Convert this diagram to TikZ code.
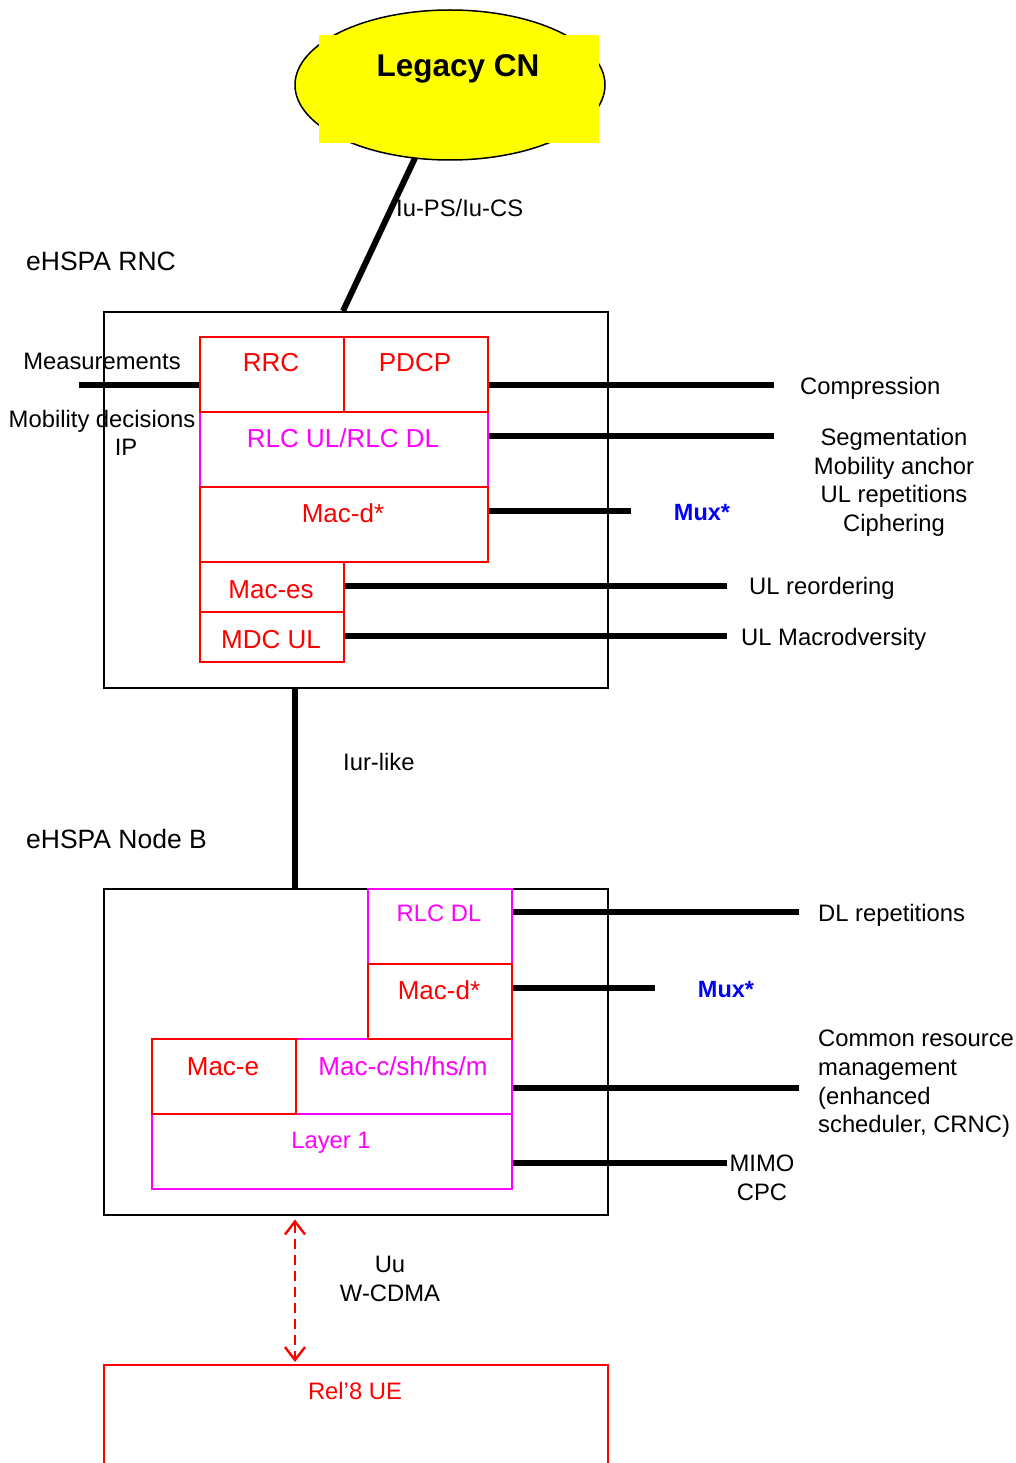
\documentclass[tikz,border=0pt]{standalone}
\usepackage{fontspec}
\setmainfont{Liberation Sans}
\usetikzlibrary{arrows.meta,calc,shapes.geometric}
\definecolor{mag}{RGB}{255,0,255}
\definecolor{pred}{RGB}{255,0,0}
\definecolor{pyel}{RGB}{255,255,0}
\definecolor{pblue}{RGB}{0,0,255}
\begin{document}
\begin{tikzpicture}[x=1pt,y=-1pt,
  frame/.style={draw=black,line width=1.5pt,anchor=north west,inner sep=0pt},
  rbox/.style={draw=pred,line width=2pt,anchor=north west,inner sep=0pt},
  mbox/.style={draw=mag,line width=2pt,anchor=north west,inner sep=0pt},
  lbl/.style={inner sep=0pt,anchor=base,font=\fontsize{23.8}{28.7}\selectfont},
  big/.style={inner sep=0pt,anchor=base west,font=\fontsize{26.5}{30}\selectfont},
  bt/.style={inner sep=0pt,anchor=base,font=\fontsize{26}{30}\selectfont},
  mux/.style={inner sep=0pt,anchor=base,text=pblue,font=\bfseries\fontsize{23.5}{28.7}\selectfont},
  link/.style={line width=6pt},
  uarrow/.style={draw=pred,line width=2.4pt,dash pattern=on 10pt off 6pt,
     {Straight Barb[length=13pt,width=20pt,line width=2.4pt]}-{Straight Barb[length=13pt,width=20pt,line width=2.4pt]}},
]
\useasboundingbox (0,0) rectangle (1016,1463);

% ---------- Legacy CN ----------
\node[ellipse,draw=black,fill=pyel,line width=1.5pt,minimum width=310pt,minimum height=150pt,inner sep=0pt] (cn) at (450,85) {};
\fill[pyel] (319,35) rectangle (599,143);
\node[inner sep=0pt,anchor=base,font=\bfseries\fontsize{31.5}{36}\selectfont] (cnt) at (458,77) {Legacy CN};

% ---------- eHSPA RNC ----------
\node[big] (rnclbl) at (26,270) {eHSPA RNC};
\node[frame,minimum width=504pt,minimum height=376pt] (rnc) at (103,311) {};

\node[mbox,minimum width=288pt,minimum height=75pt] (rlc) at (199,411) {};
\node[rbox,minimum width=144pt,minimum height=75pt] (rrc) at (199,336) {};
\node[rbox,minimum width=144pt,minimum height=75pt] (pdcp) at (343,336) {};
\node[rbox,minimum width=288pt,minimum height=75pt] (macd) at (199,486) {};
\node[rbox,minimum width=144pt,minimum height=50pt] (maces) at (199,561) {};
\node[rbox,minimum width=144pt,minimum height=50pt] (mdc) at (199,611) {};

\node[bt,text=pred] (rrct) at (271,371) {RRC};
\node[bt,text=pred] (pdcpt) at (415,371) {PDCP};
\node[bt,text=mag] (rlct) at (343,447) {RLC UL/RLC DL};
\node[bt,text=pred] (macdt) at (343,522) {Mac-d*};
\node[bt,text=pred] (macest) at (271,598) {Mac-es};
\node[bt,text=pred] (mdct) at (271,648) {MDC UL};

% Iu link
\coordinate (iutop) at (415,158);
\draw[link] (iutop) -- ($(rnc.north west)+(240,0)$);
\node[lbl,anchor=base west] (iu) at (396,217) {Iu-PS/Iu-CS};

% RNC side lines
\coordinate (mL) at (79,385);
\draw[link] (mL) -- (mL -| rrc.west);
\coordinate (c1) at (774,385);
\draw[link] (c1 -| pdcp.east) -- (c1);
\coordinate (c2) at (774,436);
\draw[link] (c2 -| rlc.east) -- (c2);
\coordinate (c3) at (631,511);
\draw[link] (c3 -| macd.east) -- (c3);
\coordinate (c4) at (727,586);
\draw[link] (c4 -| maces.east) -- (c4);
\coordinate (c5) at (727,636);
\draw[link] (c5 -| mdc.east) -- (c5);

% RNC labels
\node[lbl] (meas) at (102,369) {Measurements};
\node[lbl] (mobd) at (102,427) {Mobility decisions};
\node[lbl] (ip) at (126,455) {IP};
\node[lbl,anchor=base west] (comp) at (800,394) {Compression};
\node[lbl,anchor=north,align=center] (segm) at (894,428) {Segmentation\\Mobility anchor\\UL repetitions\\Ciphering};
\node[mux] (mux1) at (702,520) {Mux*};
\node[lbl,anchor=base west] (ulr) at (749,594) {UL reordering};
\node[lbl,anchor=base west] (ulm) at (741,645) {UL Macrodversity};

% ---------- eHSPA Node B ----------
\node[big] (nblbl) at (26,848) {eHSPA Node B};
\node[frame,minimum width=504pt,minimum height=326pt] (nb) at (103,888) {};

\coordinate (v1) at ($(rnc.south west)+(192,0)$);
\draw[link] (v1) -- (v1 |- nb.north);
\node[lbl,anchor=base west] (iur) at (343,770) {Iur-like};

\node[mbox,minimum width=144pt,minimum height=75pt] (rlcdl) at (367,888) {};
\node[mbox,minimum width=216pt,minimum height=75pt] (macc) at (295,1038) {};
\node[mbox,minimum width=360pt,minimum height=75pt] (l1) at (151,1113) {};
\node[rbox,minimum width=144pt,minimum height=75pt] (macdb) at (367,963) {};
\node[rbox,minimum width=144pt,minimum height=75pt] (mace) at (151,1038) {};

\node[lbl,text=mag] (rlcdlt) at (439,921) {RLC DL};
\node[bt,text=pred] (macdbt) at (439,999) {Mac-d*};
\node[bt,text=pred] (macet) at (223,1075) {Mac-e};
\node[bt,text=mag] (macct) at (403,1075) {Mac-c/sh/hs/m};
\node[lbl,text=mag] (l1t) at (331,1148) {Layer 1};

\coordinate (d1) at (799,912);
\draw[link] (d1 -| rlcdl.east) -- (d1);
\coordinate (d2) at (655,988);
\draw[link] (d2 -| macdb.east) -- (d2);
\coordinate (d3) at (799,1088);
\draw[link] (d3 -| macc.east) -- (d3);
\coordinate (d4) at (727,1163);
\draw[link] (d4 -| l1.east) -- (d4);

\node[lbl,anchor=base west] (dlr) at (818,921) {DL repetitions};
\node[mux] (mux2) at (726,997) {Mux*};
\node[lbl,anchor=north west,align=left] (crm) at (818,1030) {Common resource\\management\\(enhanced\\scheduler, CRNC)};
\node[lbl,anchor=north,align=center] (mimo) at (762,1155) {MIMO\\CPC};

% ---------- UE ----------
\node[rbox,minimum width=504pt,minimum height=150pt] (ue) at (103,1364) {};
\node[lbl,text=pred] (uet) at (355,1399) {Rel’8 UE};

\draw[uarrow] ($(nb.south west)+(192,4)$) -- ($(ue.north west)+(192,-2)$);
\node[lbl,anchor=north,align=center] (uu) at (390,1256) {Uu\\W-CDMA};

\end{tikzpicture}
\end{document}
